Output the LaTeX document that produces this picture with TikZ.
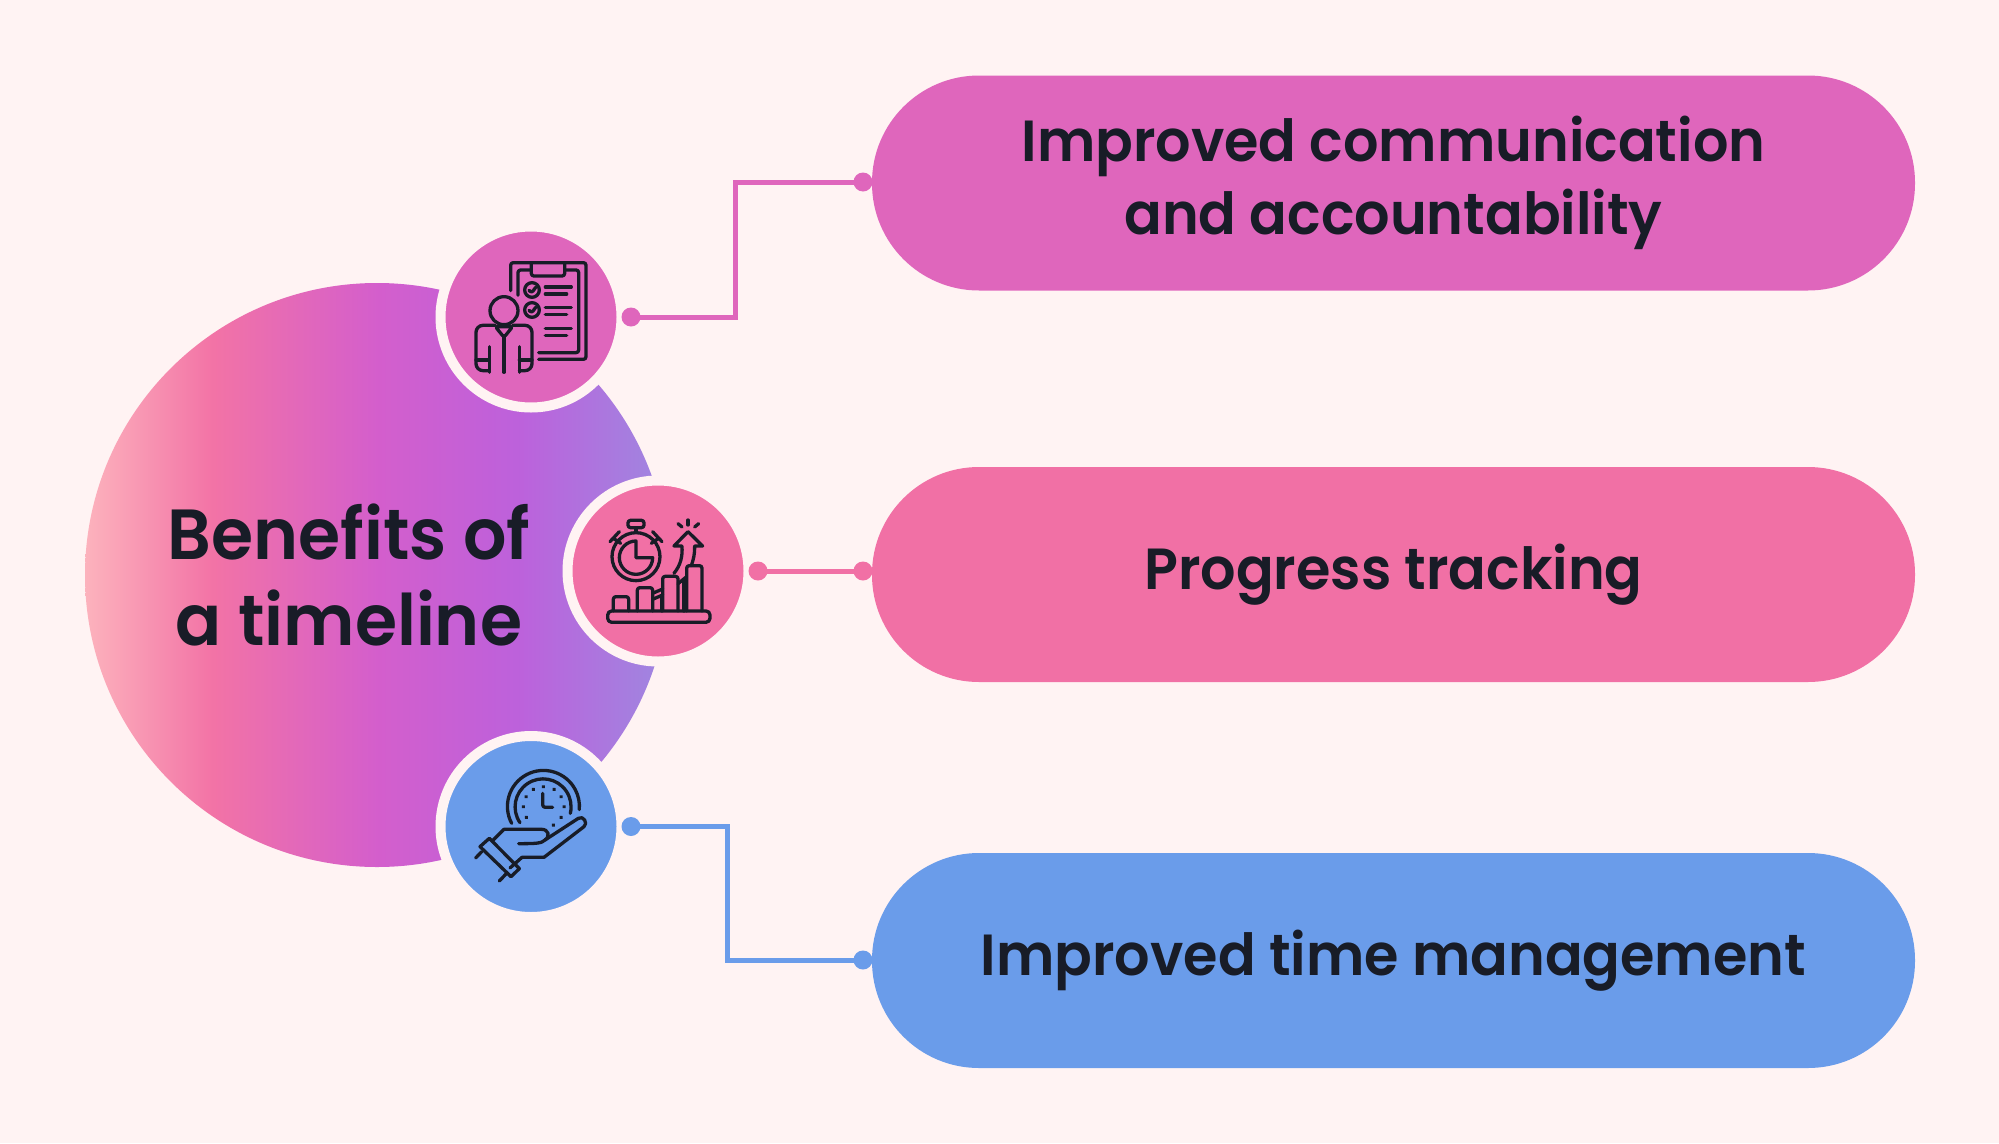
\documentclass[tikz,border=0pt]{standalone}
\usepackage{fontspec}
\setmainfont{Poppins}[UprightFont=*-SemiBold,FakeStretch=0.96]
\definecolor{pagebg}{HTML}{FFF3F3}
\definecolor{pinkA}{HTML}{DF66BC}
\definecolor{pinkB}{HTML}{F170A5}
\definecolor{blueC}{HTML}{6A9CEA}
\definecolor{ink}{HTML}{181C27}
\pgfdeclarehorizontalshading{hubgrad}{100bp}{
 rgb(0bp)=(0.99,0.70,0.74);
 rgb(25bp)=(0.99,0.70,0.74);
 rgb(36bp)=(0.95,0.45,0.65);
 rgb(50bp)=(0.83,0.37,0.80);
 rgb(62bp)=(0.74,0.38,0.86);
 rgb(75bp)=(0.62,0.53,0.88);
 rgb(100bp)=(0.62,0.53,0.88)}
\tikzset{
 pill/.style={rounded corners=107pt,minimum width=1043pt,minimum height=215pt,inner sep=0pt,text=ink,align=center,font=\fontsize{58}{73.5}\selectfont},
 badge/.style={circle,minimum size=181pt,inner sep=0pt,outer sep=0pt,draw=pagebg,line width=10pt},
 tie/.style={circle,minimum size=19pt,inner sep=0pt},
 link/.style={line width=5pt},
 glyph/.style={draw=ink,line width=3.3pt,line cap=round,line join=round,x=0.3333pt,y=-0.3333pt,fill=none,rounded corners=2.5pt},
}
\begin{document}
\begin{tikzpicture}[x=1pt,y=-1pt]
\useasboundingbox (0,0) rectangle (1999,1143);
\fill[pagebg] (0,0) rectangle (1999,1143);
\shade[shading=hubgrad] (377,575) circle[radius=292pt];
\node[text=ink,align=center,font=\fontsize{71}{86}\selectfont] (hub) at (349,575) {Benefits of\\a timeline};

\node[pill,fill=pinkA] (p1) at (1393.5,183) {Improved communication\\and accountability};
\node[pill,fill=pinkB] (p2) at (1393.5,574.5) {Progress tracking};
\node[pill,fill=blueC] (p3) at (1393.5,960.5) {Improved time management};

\node[badge,fill=pinkA] (b1) at (531,317) {};
\node[badge,fill=pinkB] (b2) at (658,571) {};
\node[badge,fill=blueC] (b3) at (531,826.5) {};

\coordinate (e1) at (735.5,250);
\coordinate (e3) at (727,900);
\node[tie,fill=pinkA] (d1a) at (631,317) {};
\node[tie,fill=pinkA] (d1b) at (863,182) {};
\node[tie,fill=pinkB] (d2a) at (758,571) {};
\node[tie,fill=pinkB] (d2b) at (863,571) {};
\node[tie,fill=blueC] (d3a) at (631,826.5) {};
\node[tie,fill=blueC] (d3b) at (863,960) {};
\draw[link,draw=pinkA] (d1a.center) -| (e1) |- (d1b.center);
\draw[link,draw=pinkB] (d2a.center) -- (d2b.center);
\draw[link,draw=blueC] (d3a.center) -| (e3) |- (d3b.center);

% icon 1: person and clipboard
\begin{scope}[shift={(430,220)}]
\draw[glyph] (242,212) -- (242,128) -- (468,128) -- (468,418) -- (326,418);
\draw[glyph] (264,226) -- (264,150) -- (304,150);
\draw[glyph] (404,150) -- (446,150) -- (446,398) -- (326,398);
\draw[glyph] (304,130) -- (304,168) -- (404,168) -- (404,130);
\draw[glyph] (306,210) circle[radius=22];
\draw[glyph] (306,270) circle[radius=22];
\draw[glyph] (297,211) -- (305,219) -- (317,202);
\draw[glyph] (297,271) -- (305,279) -- (317,262);
\draw[glyph] (346,201) -- (424,201);
\draw[glyph] (346,222) -- (410,222);
\draw[glyph] (346,263) -- (424,263);
\draw[glyph] (346,284) -- (410,284);
\draw[glyph] (346,325) -- (424,325);
\draw[glyph] (346,346) -- (410,346);
\draw[glyph] (222,272) circle[radius=42];
\draw[glyph] (178,457) -- (178,380);
\draw[glyph] (268,457) -- (268,380);
\draw[glyph] (222,352) -- (222,457);
\draw[glyph,rounded corners=7pt] (196,316) -- (138,316) -- (138,452) -- (178,452);
\draw[glyph,rounded corners=7pt] (248,316) -- (306,316) -- (306,452) -- (268,452);
\draw[glyph] (138,420) -- (178,420);
\draw[glyph] (268,420) -- (306,420);
\draw[glyph] (196,320) -- (222,352) -- (248,320) -- cycle;
\end{scope}

% icon 2: stopwatch and bars
\begin{scope}[shift={(560,475)}]
\draw[glyph] (228,245) circle[radius=72];
\draw[glyph,rounded corners=0pt] (228,198) arc[start angle=-90,end angle=-360,radius=50] -- (228,248) -- cycle;
\draw[glyph] (204,136) rectangle (252,158);
\draw[glyph] (228,158) -- (228,172);
\draw[glyph] (150,200) -- (178,170);
\draw[glyph] (160,190) -- (182,205);
\draw[glyph] (306,200) -- (278,170);
\draw[glyph] (296,190) -- (274,205);
\draw[glyph,rounded corners=4pt] (143,408) rectangle (450,442);
\draw[glyph] (160,408) -- (160,365) -- (206,365) -- (206,408);
\draw[glyph] (232,408) -- (232,338) -- (278,338) -- (278,408);
\draw[glyph] (308,408) -- (308,304) -- (354,304) -- (354,408);
\draw[glyph] (380,408) -- (380,272) -- (426,272) -- (426,408);
\draw[glyph] (280,354) -- (308,342);
\draw[glyph] (280,372) -- (308,360);
\draw[glyph] (304,362) -- (304,408);
\draw[glyph] (354,326) -- (380,305);
\draw[glyph] (372,316) -- (372,408);
\draw[glyph,rounded corners=0pt] (342,295) .. controls (362,270) and (368,245) .. (366,213) -- (342,213) -- (384,170) -- (428,213) -- (404,213) .. controls (405,235) and (400,255) .. (394,272);
\draw[glyph] (384,135) -- (384,150);
\draw[glyph] (354,146) -- (366,156);
\draw[glyph] (416,146) -- (404,156);
\end{scope}

% icon 3: hand holding clock
\begin{scope}[shift={(430,730)}]
\draw[glyph] (245,280) arc[start angle=152,end angle=365,radius=108];
\draw[glyph] (270,278) arc[start angle=145.6,end angle=373.5,radius=84];
\draw[glyph] (338,190) -- (338,232) -- (368,232);
\foreach \a/\b in {340/170,310/178,372/178,288/200,393/200,280/230,402/230,289/262,393/262,370/285}
 \draw[glyph,line width=3.8pt] (\a,\b) -- +(0.6,0.6);
\draw[glyph,rounded corners=0pt] (190,330) -- (222,298) -- (335,298) .. controls (355,298) and (362,318) .. (345,330) .. controls (335,340) and (320,341) .. (266,341);
\draw[glyph,rounded corners=0pt] (345,330) -- (445,265) .. controls (460,255) and (475,280) .. (462,290) -- (342,382) -- (276,382) -- (240,414);
\draw[glyph,rounded corners=0pt] (178,325) -- (268,416) -- (243,440) -- (150,350) -- cycle;
\draw[glyph] (155,365) -- (137,384);
\draw[glyph] (228,432) -- (208,453);
\end{scope}
\end{tikzpicture}
\end{document}
